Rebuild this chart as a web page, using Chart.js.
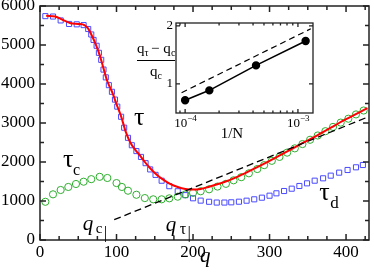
<!DOCTYPE html>
<html>
<head>
<meta charset="utf-8">
<script src="https://cdn.jsdelivr.net/npm/chart.js@4.4.0/dist/chart.umd.min.js"></script>
<style>
  html, body { margin: 0; padding: 0; background: #fff; }
  #wrap { position: relative; width: 374px; height: 278px; }
  #main { position: absolute; left: 0; top: 0; }
  #inset { position: absolute; left: 130px; top: 15px; }
</style>
</head>
<body>
<div id="wrap">
  <canvas id="main" width="374" height="278"></canvas>
  <canvas id="inset" width="190" height="125"></canvas>
</div>
<script>
const SERIF = "'Liberation Serif', 'Times New Roman', Times, serif";

// tau (red curve)
const tauQ = [8, 20, 30, 40, 50, 58, 63, 68, 73, 78, 83, 88, 95, 100, 106, 112, 118, 125, 131, 137, 144, 150, 160, 170, 180, 190, 200, 210, 220, 240, 260, 280, 300, 320, 340, 360, 380, 400, 428];
const tauV = [5750, 5730, 5640, 5560, 5540, 5510, 5420, 5230, 5010, 4740, 4400, 4070, 3760, 3480, 3170, 2780, 2500, 2300, 2160, 2000, 1840, 1720, 1560, 1440, 1360, 1310, 1295, 1310, 1360, 1480, 1640, 1830, 2030, 2240, 2450, 2660, 2880, 3100, 3380];

// tau_d (blue squares)
const tauDQ = [7, 17, 27, 38, 48, 57, 63, 67, 70, 74, 77, 80, 83, 86, 90, 94, 98, 101, 106, 110, 115, 120, 126, 132, 138, 144, 151, 159, 169, 180, 190, 200, 210, 221, 231, 241, 250, 260, 270, 280, 290, 300, 309, 319, 329, 339, 349, 359, 370, 380, 391, 402, 413, 422];
const tauDV = [5740, 5730, 5630, 5540, 5530, 5510, 5410, 5270, 5130, 4980, 4800, 4620, 4370, 4170, 3970, 3800, 3600, 3420, 3160, 2880, 2620, 2430, 2280, 2130, 1970, 1810, 1670, 1520, 1380, 1250, 1150, 1070, 1010, 980, 960, 960, 966, 982, 1008, 1043, 1085, 1136, 1197, 1256, 1316, 1385, 1453, 1521, 1582, 1650, 1727, 1795, 1864, 1923];

// tau_c (green circles)
const tauCQ = [7, 17, 27, 37, 47, 57, 67, 78, 88, 100, 107, 115, 126, 137, 148, 159, 169, 180, 190, 200, 210, 221, 232, 243, 253, 263, 273, 284, 293, 303, 313, 323, 333, 343, 353, 363, 373, 383, 393, 403, 413, 423];
const tauCV = [980, 1171, 1282, 1360, 1436, 1495, 1560, 1620, 1590, 1460, 1360, 1264, 1160, 1075, 1043, 1043, 1068, 1111, 1170, 1210, 1250, 1300, 1370, 1440, 1530, 1610, 1710, 1820, 1920, 2030, 2130, 2240, 2350, 2460, 2570, 2680, 2790, 2900, 3010, 3110, 3220, 3320];

// dashed asymptote
const fitQ = [97, 428];
const fitV = [520, 3150];

const xTicks = [0, 100, 200, 300, 400];
const xMinor = [25, 50, 75, 125, 150, 175, 225, 250, 275, 325, 350, 375, 425];
const yTicks = [0, 1000, 2000, 3000, 4000, 5000, 6000];
const yMinor = [500, 1500, 2500, 3500, 4500, 5500];

// inset
const insetN = [1.0e-4, 1.64e-4, 4.25e-4, 1.17e-3];
const insetRatio = [0.72, 0.89, 1.32, 1.74];
const insetFitN = [0.93e-4, 1.3e-3];
const insetFitRatio = [0.85, 1.95];
const insetXTicks = [1e-4, 1e-3];
const insetXMinor = [9e-5, 2e-4, 3e-4, 4e-4, 5e-4, 6e-4, 7e-4, 8e-4, 9e-4];
const insetYTicks = [1, 2];

const pts = (xs, ys) => xs.map((x, i) => ({ x: x, y: ys[i] }));

function drawFrame(chart, xMaj, xMin, yMaj, yMin, lw, lenMaj, lenMin) {
  const { ctx, chartArea: a, scales: { x, y } } = chart;
  ctx.save();
  ctx.strokeStyle = '#222';
  ctx.lineWidth = lw;
  ctx.strokeRect(a.left, a.top, a.right - a.left, a.bottom - a.top);
  ctx.beginPath();
  const xt = (vals, len) => vals.forEach(v => {
    const px = x.getPixelForValue(v);
    ctx.moveTo(px, a.bottom); ctx.lineTo(px, a.bottom - len);
    ctx.moveTo(px, a.top); ctx.lineTo(px, a.top + len);
  });
  const yt = (vals, len) => vals.forEach(v => {
    const py = y.getPixelForValue(v);
    ctx.moveTo(a.left, py); ctx.lineTo(a.left + len, py);
    ctx.moveTo(a.right, py); ctx.lineTo(a.right - len, py);
  });
  xt(xMaj, lenMaj); xt(xMin, lenMin);
  yt(yMaj, lenMaj); yt(yMin, lenMin);
  ctx.stroke();
  ctx.restore();
}

const mainDecor = {
  id: 'mainDecor',
  afterDatasetsDraw(chart) {
    drawFrame(chart, xTicks, xMinor, yTicks, yMinor, 1.5, 6, 4);
    const { ctx, chartArea: a, scales: { x, y } } = chart;
    ctx.save();
    ctx.fillStyle = '#000';
    ctx.textBaseline = 'alphabetic';
    ctx.textAlign = 'left';
    const at = (q, v) => [x.getPixelForValue(q), y.getPixelForValue(v)];

    // tau
    let [px, py] = at(123, 2949);
    ctx.font = '26px ' + SERIF;
    ctx.fillText('τ', px, py);

    // tau_c
    [px, py] = at(30, 1872);
    ctx.font = '26px ' + SERIF;
    ctx.fillText('τ', px, py);
    ctx.font = '16px ' + SERIF;
    ctx.fillText('c', px + 10, py + 8);

    // tau_d
    [px, py] = at(365, 1026);
    ctx.font = '26px ' + SERIF;
    ctx.fillText('τ', px, py);
    ctx.font = '17px ' + SERIF;
    ctx.fillText('d', px + 11, py + 8);

    // q_c marker
    [px, py] = at(56, 256);
    ctx.font = 'italic 21px ' + SERIF;
    ctx.fillText('q', px, py);
    ctx.font = '15px ' + SERIF;
    ctx.fillText('c', px + 13, py + 3);
    ctx.font = '17px ' + SERIF;
    ctx.textAlign = 'center';
    ctx.fillText('|', x.getPixelForValue(85.5), a.bottom - 2);

    // q_tau marker
    ctx.textAlign = 'left';
    [px, py] = at(164.5, 231);
    ctx.font = 'italic 21px ' + SERIF;
    ctx.fillText('q', px, py);
    ctx.font = '16px ' + SERIF;
    ctx.fillText('τ', px + 14, py + 3);
    ctx.font = '17px ' + SERIF;
    ctx.textAlign = 'center';
    ctx.fillText('|', x.getPixelForValue(195), a.bottom - 2);

    // axis title
    ctx.font = 'italic 21px ' + SERIF;
    ctx.fillText('q', x.getPixelForValue(216), a.bottom + 22);
    ctx.restore();
  }
};

new Chart(document.getElementById('main'), {
  type: 'line',
  data: {
    datasets: [
      { label: 'τ', data: pts(tauQ, tauV), borderColor: '#ff0000', borderWidth: 2,
        pointRadius: 0, cubicInterpolationMode: 'monotone', order: 1 },
      { label: 'fit', data: pts(fitQ, fitV), borderColor: '#000', borderWidth: 1.3,
        borderDash: [7, 4], pointRadius: 0, order: 0 },
      { label: 'τd', data: pts(tauDQ, tauDV), showLine: false, pointStyle: 'rect',
        pointRadius: 3.6, borderColor: '#4a4aff', backgroundColor: 'rgba(0,0,0,0)',
        pointBorderWidth: 1, order: 3 },
      { label: 'τc', data: pts(tauCQ, tauCV), showLine: false, pointStyle: 'circle',
        pointRadius: 3.6, borderColor: '#2fae2f', backgroundColor: 'rgba(0,0,0,0)',
        pointBorderWidth: 1, order: 2 }
    ]
  },
  options: {
    responsive: false,
    animation: false,
    devicePixelRatio: 1,
    layout: { padding: { left: 0, right: 2, top: 6, bottom: 0 } },
    plugins: { legend: { display: false }, tooltip: { enabled: false } },
    scales: {
      x: {
        type: 'linear', min: 0, max: 430,
        grid: { display: false, drawTicks: false }, border: { display: false },
        afterBuildTicks: s => { s.ticks = xTicks.map(v => ({ value: v })); },
        afterFit: s => { s.height = 38; s.paddingLeft = 0; s.paddingRight = 0; },
        ticks: { color: '#000', font: { family: SERIF, size: 17 }, padding: 2,
                 maxRotation: 0, autoSkip: false, callback: v => String(v) }
      },
      y: {
        type: 'linear', min: 0, max: 6000,
        grid: { display: false, drawTicks: false }, border: { display: false },
        afterBuildTicks: s => { s.ticks = yTicks.map(v => ({ value: v })); },
        afterFit: s => { s.width = 40; s.paddingTop = 0; s.paddingBottom = 0; },
        ticks: { color: '#000', font: { family: SERIF, size: 17 }, padding: 5,
                 callback: v => String(v) }
      }
    }
  },
  plugins: [mainDecor]
});

const insetDecor = {
  id: 'insetDecor',
  beforeDatasetsDraw(chart) {
    const { ctx, chartArea: a } = chart;
    ctx.save();
    ctx.fillStyle = '#fff';
    ctx.fillRect(a.left, a.top, a.right - a.left, a.bottom - a.top);
    ctx.restore();
  },
  afterDatasetsDraw(chart) {
    drawFrame(chart, insetXTicks, insetXMinor, insetYTicks, [], 1.3, 4, 2.5);
    const { ctx, chartArea: a, scales: { x, y } } = chart;
    ctx.save();
    ctx.fillStyle = '#000';
    // y tick labels
    ctx.font = '13px ' + SERIF;
    ctx.textAlign = 'right';
    ctx.textBaseline = 'middle';
    insetYTicks.forEach(v => ctx.fillText(String(v), a.left - 3, y.getPixelForValue(v)));
    // x tick labels 10^-4, 10^-3
    ctx.textBaseline = 'alphabetic';
    insetXTicks.forEach(v => {
      const px = x.getPixelForValue(v);
      const e = Math.round(Math.log10(v));
      ctx.font = '13px ' + SERIF;
      ctx.textAlign = 'right';
      ctx.fillText('10', px + 2, a.bottom + 14);
      ctx.font = '9px ' + SERIF;
      ctx.textAlign = 'left';
      ctx.fillText(String(e).replace('-', '\u2212'), px + 2, a.bottom + 8);
    });
    // x title
    ctx.font = '15px ' + SERIF;
    ctx.textAlign = 'center';
    ctx.fillText('1/N', x.getPixelForValue(2.6e-4), a.bottom + 25);
    // y title: (q_tau - q_c) / q_c
    ctx.textAlign = 'left';
    ctx.font = '15px ' + SERIF;
    ctx.fillText('q', 7, 38);
    ctx.font = '10px ' + SERIF;
    ctx.fillText('τ', 14.5, 41);
    ctx.font = '15px ' + SERIF;
    ctx.fillText('\u2212 q', 21, 38);
    ctx.font = '10px ' + SERIF;
    ctx.fillText('c', 41, 41);
    ctx.fillRect(7, 45, 38, 1);
    ctx.font = '15px ' + SERIF;
    ctx.fillText('q', 20, 61);
    ctx.font = '10px ' + SERIF;
    ctx.fillText('c', 27.5, 64);
    ctx.restore();
  }
};

new Chart(document.getElementById('inset'), {
  type: 'line',
  data: {
    datasets: [
      { data: pts(insetN, insetRatio), borderColor: '#000', backgroundColor: '#000',
        borderWidth: 1.6, pointRadius: 3.4, pointBackgroundColor: '#000', order: 0 },
      { data: pts(insetFitN, insetFitRatio), borderColor: '#000', borderWidth: 1.2,
        borderDash: [6, 4], pointRadius: 0, order: 1 }
    ]
  },
  options: {
    responsive: false,
    animation: false,
    devicePixelRatio: 1,
    layout: { padding: { left: 46, top: 8, right: 7, bottom: 27 } },
    plugins: { legend: { display: false }, tooltip: { enabled: false } },
    scales: {
      x: { type: 'logarithmic', min: 8.3e-5, max: 1.36e-3, display: false },
      y: { type: 'linear', min: 0.5, max: 2.05, display: false }
    }
  },
  plugins: [insetDecor]
});
</script>
</body>
</html>
